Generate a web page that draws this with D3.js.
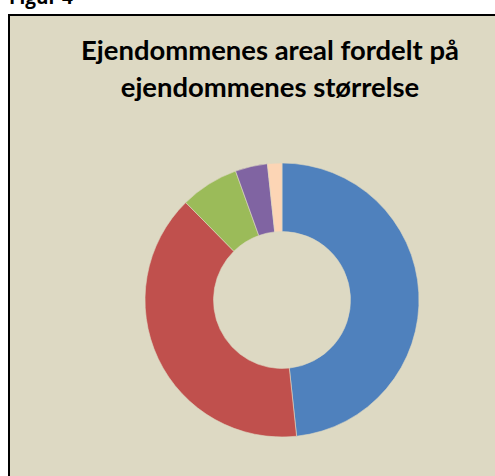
<!DOCTYPE html>
<meta charset="utf-8">
<script src="https://d3js.org/d3.v7.min.js"></script>
<style>
  body { margin: 0; background: #fff; }
  svg { display: block; }
</style>
<body>
<div id="chart"></div>
<script>
// slice shares (percent), clockwise from 12 o'clock
var sizeGroups = ["A", "B", "C", "D", "E"];
var areaShare = [48.3, 39.3, 6.9, 3.8, 1.7];
var sliceColors = ["#4F81BD", "#C0504D", "#9BBB59", "#8064A2", "#FCD5B5"];
var titleLines = ["Ejendommenes areal fordelt på", "ejendommenes størrelse"];

var width = 495, height = 476;

var svg = d3.select("#chart").append("svg")
  .attr("width", width)
  .attr("height", height);

// caption above the frame, mostly cut off
svg.append("text")
  .attr("x", 9)
  .attr("y", 4)
  .style("font", "bold 19px 'Open Sans', sans-serif")
  .text("Figur 4");

svg.append("rect")
  .attr("x", 9)
  .attr("y", 15)
  .attr("width", 500)
  .attr("height", 480)
  .attr("fill", "#DDD9C3")
  .attr("stroke", "#000")
  .attr("stroke-width", 2);

var title = svg.append("g")
  .style("font-family", "Lato, 'Open Sans', sans-serif")
  .style("font-weight", "bold")
  .attr("text-anchor", "middle");

var t = title.selectAll("text")
  .data(titleLines)
  .enter().append("text")
  .attr("x", 270)
  .attr("y", function(d, i) { return 60 + i * 37; })
  .style("font-size", "24px")
  .text(function(d) { return d; });

// scale font so the first line is about as wide as in the original
var w0 = t.nodes()[0].getComputedTextLength();
var fs = 24 * 378 / w0;
t.style("font-size", fs + "px");

var cx = 282, cy = 300, rOuter = 137, rInner = 68.5;

var pie = d3.pie().sort(null).value(function(d) { return d; });
var arc = d3.arc().innerRadius(rInner).outerRadius(rOuter);

var color = d3.scaleOrdinal().domain(sizeGroups).range(sliceColors);

svg.append("g")
  .attr("transform", "translate(" + cx + "," + cy + ")")
  .selectAll("path")
  .data(pie(areaShare))
  .enter().append("path")
  .attr("d", arc)
  .attr("fill", function(d, i) { return color(sizeGroups[i]); })
  .attr("stroke", "#DDD9C3")
  .attr("stroke-width", 0.6);
</script>
</body>
